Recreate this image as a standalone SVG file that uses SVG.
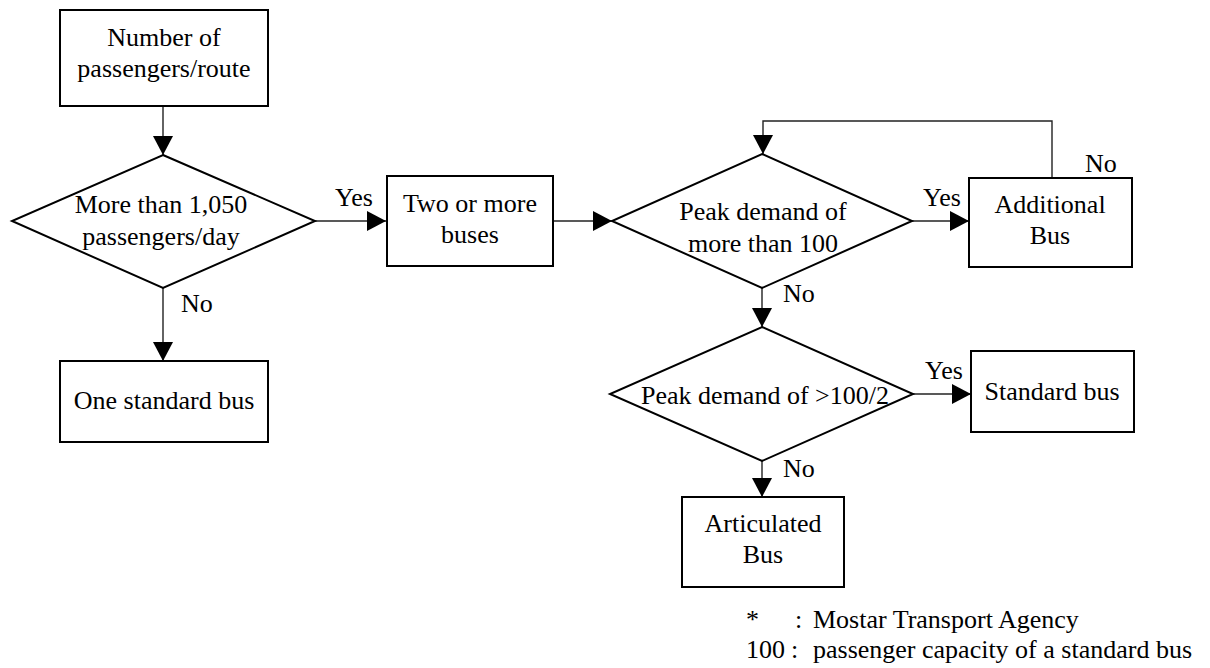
<svg xmlns="http://www.w3.org/2000/svg" width="1210" height="668" viewBox="0 0 1210 668">
<style>
.box{fill:#fff;stroke:#000;stroke-width:2}
text{font-family:'Liberation Serif','Times New Roman',Tinos,'DejaVu Serif',serif;font-size:26px;fill:#000}
.c{text-anchor:middle}
.ln{fill:none;stroke:#222;stroke-width:1.4}
</style>
<defs>
<marker id="ah" markerUnits="userSpaceOnUse" markerWidth="20" markerHeight="20" refX="19" refY="10" orient="auto">
<path d="M0,0 L19,10 L0,20 z" fill="#000"/>
</marker>
</defs>
<rect width="1210" height="668" fill="#fff"/>
<g id="connectors">
<line class="ln" x1="163" y1="106" x2="163" y2="155" marker-end="url(#ah)"/>
<line class="ln" x1="315" y1="221" x2="386" y2="221" marker-end="url(#ah)"/>
<line class="ln" x1="163" y1="288" x2="163" y2="361" marker-end="url(#ah)"/>
<line class="ln" x1="553" y1="221" x2="612" y2="221" marker-end="url(#ah)"/>
<line class="ln" x1="912" y1="221" x2="969" y2="221" marker-end="url(#ah)"/>
<path class="ln" d="M1052,178 V121 H763 V154" marker-end="url(#ah)"/>
<line class="ln" x1="762" y1="288" x2="762" y2="327" marker-end="url(#ah)"/>
<line class="ln" x1="913" y1="394" x2="971" y2="394" marker-end="url(#ah)"/>
<line class="ln" x1="762" y1="461" x2="762" y2="497" marker-end="url(#ah)"/>
<text font-family="Liberation Serif, serif" x="335" y="206">Yes</text>
<text font-family="Liberation Serif, serif" x="181" y="312">No</text>
<text font-family="Liberation Serif, serif" x="923" y="206">Yes</text>
<text font-family="Liberation Serif, serif" x="1085" y="172">No</text>
<text font-family="Liberation Serif, serif" x="783" y="302">No</text>
<text font-family="Liberation Serif, serif" x="925" y="379">Yes</text>
<text font-family="Liberation Serif, serif" x="783" y="477">No</text>
</g>
<g id="n-passengers">
<rect class="box" x="60" y="10" width="208" height="96"/>
<text class="c" x="164" y="46">Number of</text>
<text class="c" x="164" y="77">passengers/route</text>
</g>
<g id="d-1050">
<polygon class="box" points="163,155 315,221 163,288 12,221"/>
<text class="c" x="161" y="213">More than 1,050</text>
<text class="c" x="161" y="245">passengers/day</text>
</g>
<g id="n-one-standard">
<rect class="box" x="60" y="361" width="208" height="81"/>
<text class="c" x="164" y="409">One standard bus</text>
</g>
<g id="n-two-more">
<rect class="box" x="387" y="176" width="166" height="90"/>
<text class="c" x="470" y="212">Two or more</text>
<text class="c" x="470" y="243">buses</text>
</g>
<g id="d-peak100">
<polygon class="box" points="762,154 912,221 762,288 612,221"/>
<text class="c" x="763" y="220">Peak demand of</text>
<text class="c" x="763" y="252">more than 100</text>
</g>
<g id="n-additional">
<rect class="box" x="969" y="178" width="163" height="89"/>
<text class="c" x="1050" y="213">Additional</text>
<text class="c" x="1050" y="244">Bus</text>
</g>
<g id="d-peak50">
<polygon class="box" points="762,327 913,394 762,461 610,394"/>
<text class="c" x="765" y="404">Peak demand of &gt;100/2</text>
</g>
<g id="n-standard">
<rect class="box" x="971" y="351" width="163" height="81"/>
<text class="c" x="1052" y="400">Standard bus</text>
</g>
<g id="n-articulated">
<rect class="box" x="682" y="497" width="162" height="90"/>
<text class="c" x="763" y="532">Articulated</text>
<text class="c" x="763" y="563">Bus</text>
</g>
<g id="footnote">
<text x="746" y="628">*</text>
<text x="795" y="628">:</text>
<text x="813" y="628">Mostar Transport Agency</text>
<text x="746" y="658">100</text>
<text x="791" y="658">:</text>
<text x="813" y="658">passenger capacity of a standard bus</text>
</g>
</svg>
